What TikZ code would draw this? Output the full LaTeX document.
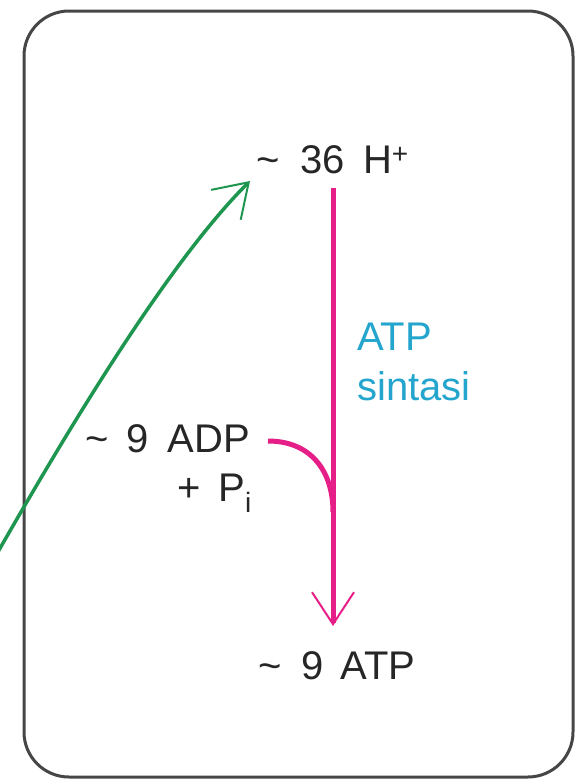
\documentclass[tikz,border=0pt]{standalone}
\usepackage{fontspec}
\setmainfont{Liberation Sans}
\usetikzlibrary{arrows.meta}
\definecolor{pinkc}{RGB}{230,30,135}
\definecolor{greenc}{RGB}{30,150,80}
\definecolor{cyanc}{RGB}{35,165,205}
\definecolor{boxc}{RGB}{70,70,70}
\begin{document}
\begin{tikzpicture}[x=1pt,y=-1pt,
  lbl/.style={font=\fontsize{40}{50}\selectfont, inner sep=0pt, text=black!85},
  barb/.style={-{Straight Barb[length=32pt,width=42pt,line width=2pt]}}]
\useasboundingbox (0,0) rectangle (575,780);
\draw[boxc, line width=3pt, rounded corners=45pt] (24,11) rectangle (573,777);
\node[lbl, anchor=base west] (h) at (256,173) {\textasciitilde\hspace{21pt}36\hspace{18pt}H\textsuperscript{+}};
\node[lbl, anchor=base west] (atp) at (258,679) {\textasciitilde\hspace{20pt}9\hspace{17pt}ATP};
\node[lbl, anchor=base east] (adp) at (250,452) {\textasciitilde\hspace{17pt}9\hspace{19pt}ADP};
\node[lbl, anchor=base east] (pi) at (252,501) {+\hspace{18pt}P\textsubscript{i}};
\node[lbl, text=cyanc, align=left, anchor=base west] (sint) at (357,400) {ATP\\sintasi};
\coordinate (ptop) at (333,188);
\coordinate (pbot) at (333,626);
\coordinate (cs) at (268,441);
\coordinate (cj) at (333,512);
\coordinate (gs) at (-5,557);
\coordinate (gtip) at (250,181);
\draw[pinkc, line width=5pt, barb] (ptop) -- (pbot);
\draw[pinkc, line width=5pt] (cs) .. controls (310,441) and (333,470) .. (cj);
\draw[greenc, line width=3.5pt, barb] (gs) .. controls (45,470) and (160,270) .. (gtip);
\end{tikzpicture}
\end{document}
